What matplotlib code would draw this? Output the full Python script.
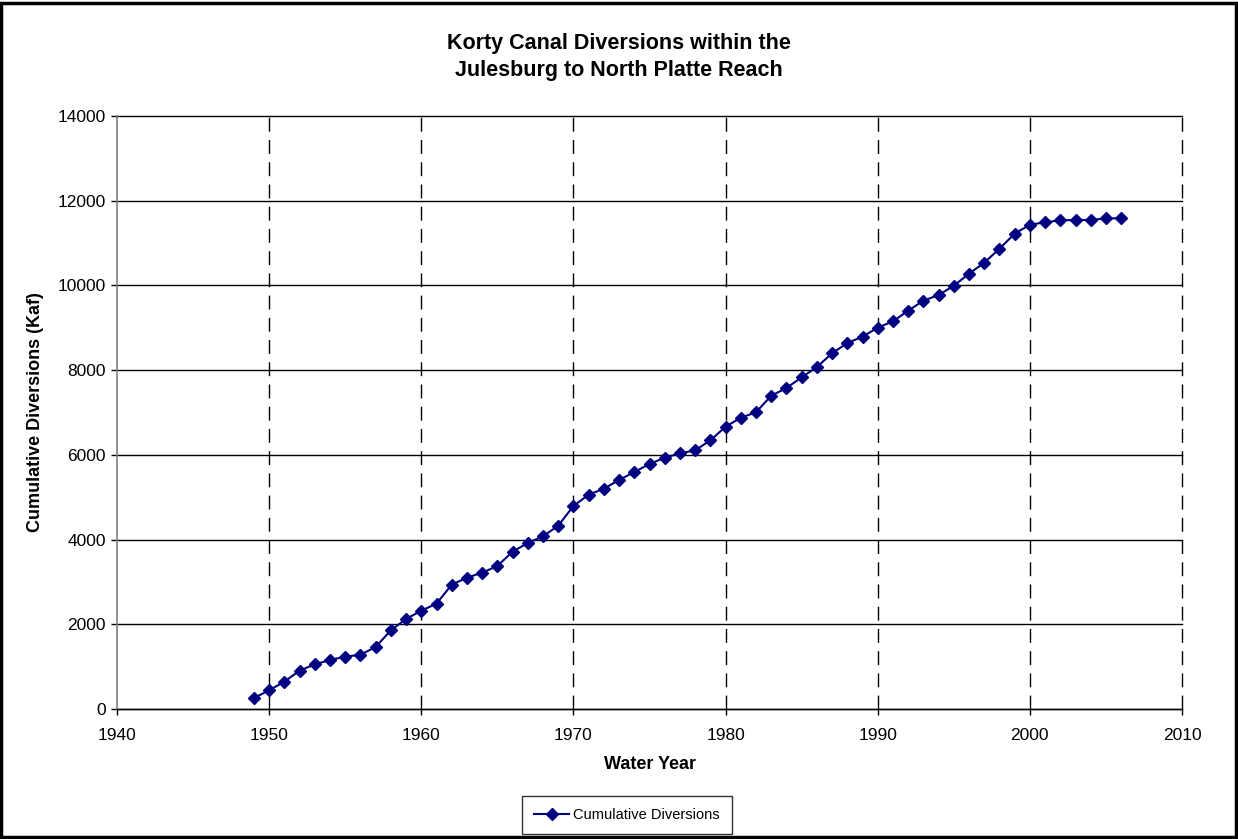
import matplotlib.pyplot as plt
from matplotlib.patches import Rectangle

plt.rcParams['font.family'] = ['Liberation Sans', 'DejaVu Sans']

years = list(range(1949, 2007))
cumulative = [
    260, 441, 645, 905, 1055, 1157, 1235, 1282, 1464, 1858,
    2125, 2321, 2486, 2935, 3100, 3218, 3376, 3714, 3919, 4077,
    4327, 4792, 5059, 5201, 5406, 5595, 5784, 5933, 6036, 6107,
    6343, 6664, 6877, 7004, 7396, 7578, 7830, 8074, 8397, 8640,
    8789, 9002, 9152, 9403, 9639, 9773, 9993, 10276, 10536, 10866,
    11221, 11433, 11490, 11537, 11544, 11544, 11584, 11584,
]
series_name = 'Cumulative Diversions'
title = 'Korty Canal Diversions within the\nJulesburg to North Platte Reach'

fig = plt.figure(figsize=(12.38, 8.39), dpi=100)
ax = fig.add_axes([117 / 1238, 1 - 709 / 839, (1182 - 117) / 1238, (709 - 116) / 839])

line, = ax.plot(years, cumulative, color='#000080', lw=1.5, marker='D',
                markersize=6.5, label=series_name, zorder=3)

ax.set_xlim(1940, 2010)
ax.set_ylim(0, 14000)
ax.set_xticks(range(1940, 2011, 10))
ax.set_yticks(range(0, 14001, 2000))

# gridlines: solid horizontal, dashed vertical
ax.grid(axis='y', color='black', lw=1, ls='-')
ax.grid(axis='x', color='black', lw=1, ls=(0, (10, 6)))
ax.set_axisbelow(True)
for gl in ax.get_xgridlines() + ax.get_ygridlines():
    gl.set_clip_on(False)
ax.get_xgridlines()[0].set_visible(False)  # left edge is the grey axis line
for s in ('top', 'right'):
    ax.spines[s].set_visible(False)
ax.spines['left'].set_color('#808080')
ax.spines['left'].set_linewidth(1.2)
ax.spines['bottom'].set_linewidth(1)

ax.tick_params(axis='both', direction='out', length=4, width=1, labelsize=12.5)
ax.tick_params(axis='y', pad=4)
ax.tick_params(axis='x', pad=10)
ax.set_xlabel('Water Year', fontsize=13, fontweight='bold', labelpad=9)
ax.set_ylabel('Cumulative Diversions (Kaf)', fontsize=13, fontweight='bold', labelpad=10)

fig.text(0.5, 1 - 57 / 839, title, ha='center', va='center', fontsize=15.5,
         fontweight='bold', linespacing=1.4)

leg = fig.legend(handles=[line], loc='center', bbox_to_anchor=(627 / 1238, 1 - 815 / 839),
                 frameon=True, fancybox=False, edgecolor='black', fontsize=10.5,
                 handlelength=2.4, handletextpad=0.3, borderpad=0.8, borderaxespad=0)
leg.get_frame().set_linewidth(1)

fig.patches.append(Rectangle((0.001, 0.002), 0.997, 0.995, transform=fig.transFigure,
                             fill=False, edgecolor='black', lw=2.5))

fig.savefig('out.png', dpi=100)
